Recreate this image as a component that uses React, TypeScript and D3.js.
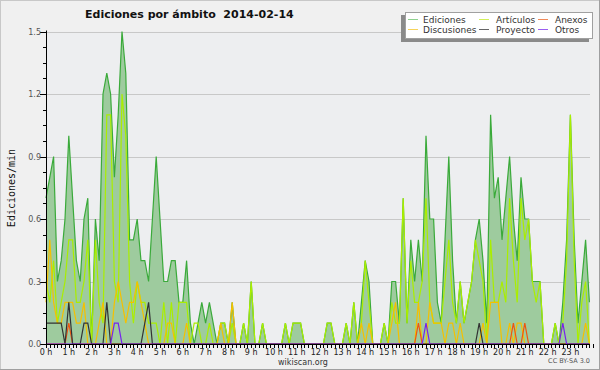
import React from "react";
import * as d3 from "d3";

// 10-minute samples, edits per minute
const ediciones = [
  0.7,0.8,0.9,0.3,0.4,0.6,1.0,0.7,0.4,0.3,0.6,0.7,
  0.0,0.6,0.4,1.2,1.3,1.2,0.8,1.1,1.5,1.3,0.5,0.5,
  0.6,0.4,0.4,0.3,0.6,0.9,0.6,0.3,0.3,0.4,0.4,0.2,
  0.2,0.4,0.1,0.0,0.1,0.2,0.1,0.2,0.1,0.0,0.1,0.1,
  0.0,0.2,0.0,0.0,0.1,0.0,0.3,0.0,0.0,0.1,0.0,0.0,
  0.0,0.0,0.0,0.1,0.0,0.1,0.1,0.1,0.0,0.0,0.0,0.0,
  0.0,0.0,0.1,0.1,0.0,0.0,0.0,0.1,0.0,0.2,0.0,0.2,
  0.4,0.3,0.0,0.0,0.0,0.1,0.0,0.3,0.3,0.1,0.7,0.1,
  0.5,0.3,0.5,0.3,1.0,0.6,0.6,0.2,0.1,0.5,0.9,0.4,
  0.1,0.3,0.1,0.2,0.3,0.5,0.6,0.4,0.1,1.1,0.7,0.8,
  0.5,0.7,0.9,0.6,0.4,0.8,0.6,0.6,0.3,0.3,0.3,0.0,
  0.0,0.0,0.1,0.0,0.2,0.5,1.1,0.5,0.1,0.3,0.5,0.2,
];
const articulos = [
  0.3,0.2,0.4,0.1,0.2,0.3,0.5,0.5,0.2,0.2,0.3,0.5,
  0.0,0.5,0.2,0.1,1.1,1.1,0.3,0.2,1.2,1.0,0.3,0.1,
  0.3,0.2,0.2,0.1,0.1,0.1,0.0,0.2,0.0,0.2,0.0,0.2,
  0.2,0.2,0.0,0.1,0.1,0.0,0.0,0.1,0.0,0.0,0.1,0.1,
  0.0,0.1,0.0,0.0,0.1,0.0,0.3,0.0,0.0,0.1,0.0,0.0,
  0.0,0.0,0.0,0.1,0.0,0.1,0.1,0.1,0.0,0.0,0.0,0.0,
  0.0,0.0,0.1,0.1,0.0,0.0,0.0,0.1,0.0,0.2,0.0,0.1,
  0.4,0.2,0.0,0.0,0.0,0.1,0.0,0.2,0.1,0.1,0.7,0.1,
  0.4,0.2,0.2,0.3,0.7,0.2,0.1,0.1,0.1,0.3,0.5,0.2,
  0.1,0.3,0.1,0.2,0.3,0.5,0.4,0.3,0.0,0.5,0.2,0.2,
  0.3,0.2,0.7,0.4,0.2,0.7,0.5,0.6,0.3,0.2,0.3,0.0,
  0.0,0.0,0.1,0.0,0.1,0.4,1.1,0.4,0.0,0.2,0.3,0.0,
];
const discusiones = [
  0.2,0.5,0.2,0.1,0.1,0.2,0.2,0.2,0.1,0.1,0.2,0.0,
  0.0,0.0,0.1,0.2,0.0,0.0,0.2,0.3,0.2,0.1,0.2,0.2,
  0.3,0.2,0.1,0.0,0.0,0.0,0.0,0.0,0.1,0.1,0.0,0.0,
  0.0,0.1,0.0,0.0,0.0,0.0,0.0,0.0,0.0,0.0,0.1,0.0,
  0.0,0.2,0.0,0.0,0.0,0.0,0.0,0.0,0.0,0.0,0.0,0.0,
  0.0,0.0,0.0,0.0,0.0,0.0,0.0,0.0,0.0,0.0,0.0,0.0,
  0.0,0.0,0.0,0.0,0.0,0.0,0.0,0.0,0.0,0.0,0.0,0.1,
  0.0,0.1,0.0,0.0,0.0,0.0,0.0,0.1,0.2,0.0,0.0,0.0,
  0.0,0.0,0.2,0.0,0.0,0.2,0.1,0.1,0.1,0.0,0.1,0.1,
  0.0,0.1,0.0,0.0,0.0,0.0,0.0,0.1,0.0,0.2,0.2,0.2,
  0.0,0.0,0.1,0.0,0.1,0.1,0.0,0.0,0.0,0.0,0.0,0.0,
  0.0,0.0,0.0,0.0,0.0,0.0,0.0,0.0,0.0,0.0,0.1,0.0,
];
const proyecto = [
  0.1,0.1,0.1,0.1,0.1,0.0,0.2,0.0,0.0,0.0,0.1,0.1,
  0.0,0.0,0.0,0.0,0.2,0.0,0.0,0.0,0.0,0.0,0.0,0.0,
  0.0,0.0,0.1,0.2,0.0,0.0,0.0,0.0,0.0,0.0,0.0,0.0,
  0.0,0.0,0.0,0.0,0.0,0.0,0.0,0.0,0.0,0.0,0.0,0.0,
  0.0,0.0,0.0,0.0,0.0,0.0,0.0,0.0,0.0,0.0,0.0,0.0,
  0.0,0.0,0.0,0.0,0.0,0.0,0.0,0.0,0.0,0.0,0.0,0.0,
  0.0,0.0,0.0,0.0,0.0,0.0,0.0,0.0,0.0,0.0,0.0,0.0,
  0.0,0.0,0.0,0.0,0.0,0.0,0.0,0.0,0.0,0.0,0.0,0.0,
  0.0,0.0,0.0,0.0,0.0,0.0,0.0,0.0,0.0,0.0,0.0,0.0,
  0.0,0.0,0.0,0.0,0.0,0.0,0.1,0.0,0.0,0.0,0.0,0.0,
  0.0,0.0,0.0,0.0,0.0,0.0,0.0,0.0,0.0,0.0,0.0,0.0,
  0.0,0.0,0.0,0.0,0.0,0.0,0.0,0.0,0.0,0.0,0.0,0.0,
];
const anexos = [
  0.0,0.0,0.0,0.0,0.0,0.0,0.1,0.0,0.0,0.0,0.0,0.0,
  0.0,0.0,0.0,0.0,0.0,0.0,0.0,0.0,0.0,0.0,0.0,0.0,
  0.0,0.0,0.0,0.0,0.0,0.0,0.0,0.0,0.0,0.0,0.0,0.0,
  0.0,0.0,0.0,0.0,0.0,0.0,0.0,0.0,0.0,0.0,0.0,0.0,
  0.0,0.0,0.0,0.0,0.0,0.0,0.0,0.0,0.0,0.0,0.0,0.0,
  0.0,0.0,0.0,0.0,0.0,0.0,0.0,0.0,0.0,0.0,0.0,0.0,
  0.0,0.0,0.0,0.0,0.0,0.0,0.0,0.0,0.0,0.0,0.0,0.0,
  0.0,0.0,0.0,0.0,0.0,0.0,0.0,0.0,0.0,0.0,0.0,0.0,
  0.0,0.0,0.1,0.0,0.0,0.0,0.0,0.0,0.0,0.0,0.0,0.0,
  0.0,0.0,0.0,0.0,0.0,0.0,0.0,0.0,0.0,0.0,0.0,0.0,
  0.0,0.0,0.0,0.1,0.0,0.0,0.1,0.0,0.0,0.0,0.0,0.0,
  0.0,0.0,0.0,0.0,0.0,0.0,0.0,0.0,0.0,0.0,0.0,0.0,
];
const otros = [
  0.0,0.0,0.0,0.0,0.0,0.0,0.0,0.0,0.0,0.0,0.0,0.0,
  0.0,0.0,0.0,0.0,0.0,0.0,0.1,0.1,0.0,0.0,0.0,0.0,
  0.0,0.0,0.0,0.0,0.0,0.0,0.0,0.0,0.0,0.0,0.0,0.0,
  0.0,0.0,0.0,0.0,0.0,0.0,0.0,0.0,0.0,0.0,0.0,0.0,
  0.0,0.0,0.0,0.0,0.0,0.0,0.0,0.0,0.0,0.0,0.0,0.0,
  0.0,0.0,0.0,0.0,0.0,0.0,0.0,0.0,0.0,0.0,0.0,0.0,
  0.0,0.0,0.0,0.0,0.0,0.0,0.0,0.0,0.0,0.0,0.0,0.0,
  0.0,0.0,0.0,0.0,0.0,0.0,0.0,0.0,0.0,0.0,0.0,0.0,
  0.0,0.0,0.0,0.0,0.1,0.0,0.0,0.0,0.0,0.0,0.0,0.0,
  0.0,0.0,0.0,0.0,0.0,0.0,0.0,0.0,0.0,0.0,0.0,0.0,
  0.0,0.0,0.0,0.0,0.0,0.0,0.0,0.0,0.0,0.0,0.0,0.0,
  0.0,0.0,0.0,0.0,0.1,0.0,0.0,0.0,0.0,0.0,0.0,0.0,
];

const hourLabels = ["0 h","1 h","2 h","3 h","4 h","5 h","6 h","7 h","8 h","9 h","10 h","11 h",
  "12 h","13 h","14 h","15 h","16 h","17 h","18 h","19 h","20 h","21 h","22 h","23 h"];
const yTicks = [0.0, 0.3, 0.6, 0.9, 1.2, 1.5];
const title = "Ediciones por ámbito  2014-02-14";
const yLabel = "Ediciones/min";

const legendItems = [
  { name: "Ediciones", color: "#8fd18f", col: 0, row: 0 },
  { name: "Artículos", color: "#d2ef5a", col: 1, row: 0 },
  { name: "Anexos", color: "#f08a5a", col: 2, row: 0 },
  { name: "Discusiones", color: "#f6d35a", col: 0, row: 1 },
  { name: "Proyecto", color: "#666666", col: 1, row: 1 },
  { name: "Otros", color: "#9a5ef0", col: 2, row: 1 },
];

const lineSeries = [
  { data: articulos, color: "#aaee00" },
  { data: discusiones, color: "#f5c000" },
  { data: anexos, color: "#ee5511" },
  { data: proyecto, color: "#333333" },
  { data: otros, color: "#7722ee" },
];

export default function App() {
  const W = 600, H = 370;
  const x0 = 46, x1 = 589.4, yTop = 31.5, yBot = 344;
  const x = d3.scaleLinear().domain([0, ediciones.length - 1]).range([x0, x1]);
  const y = d3.scaleLinear().domain([0, 1.5]).range([yBot, yTop]);
  const line = d3.line<number>().x((_, i) => x(i)).y((d) => y(d));
  const area = d3.area<number>().x((_, i) => x(i)).y0(yBot).y1((d) => y(d));
  const font = "'DejaVu Sans', sans-serif";
  const minorY = d3.range(0, 1.5001, 0.075);
  const minorX = d3.range(0, ediciones.length + 1);
  const colX = [408, 479, 538];
  const colT = [423, 496, 555];
  return (
    <svg width={W} height={H} style={{ position: "absolute", left: 0, top: 0 }}
      xmlns="http://www.w3.org/2000/svg">
      <rect x={0} y={0} width={W} height={H} fill="#f0f0f0" />
      <rect x={x0} y={yTop} width={590 - x0} height={yBot - yTop} fill="#edeef0" />
      <line x1={0.5} y1={0} x2={0.5} y2={H} stroke="#c8c8c8" />
      <line x1={0} y1={0.5} x2={W} y2={0.5} stroke="#c8c8c8" />
      <line x1={W - 0.5} y1={0} x2={W - 0.5} y2={H} stroke="#a0a0a0" />
      <line x1={0} y1={H - 0.5} x2={W} y2={H - 0.5} stroke="#a0a0a0" />
      {yTicks.filter((t) => t > 0).map((t) => (
        <line key={"g" + t} x1={x0} x2={590} y1={Math.round(y(t)) + 0.5} y2={Math.round(y(t)) + 0.5}
          stroke="#c8c8c8" strokeWidth={1} />
      ))}
      <path d={area(ediciones) || ""} fill="#9ecb9e" />
      <path d={line(ediciones) || ""} fill="none" stroke="#3aaa3a" strokeWidth={1.2} />
      {lineSeries.map((s, k) => (
        <path key={k} d={line(s.data) || ""} fill="none" stroke={s.color} strokeWidth={1.2} />
      ))}
      {/* axes */}
      <line x1={x0 + 0.5} x2={x0 + 0.5} y1={yTop - 1} y2={yBot + 1} stroke="#000" />
      <line x1={x0} x2={590} y1={yBot + 0.5} y2={yBot + 0.5} stroke="#000" />
      {minorY.map((t, k) => (
        <line key={"my" + k} x1={k % 4 === 0 ? x0 - 6 : x0 - 3} x2={x0}
          y1={Math.round(y(t)) + 0.5} y2={Math.round(y(t)) + 0.5} stroke="#000" />
      ))}
      {minorX.map((i) => (
        <line key={"mx" + i} x1={Math.round(x0 + (i * (x1 - x0)) / (ediciones.length - 1)) + 0.5}
          x2={Math.round(x0 + (i * (x1 - x0)) / (ediciones.length - 1)) + 0.5}
          y1={yBot} y2={yBot + 4} stroke="#000" />
      ))}
      {yTicks.map((t) => (
        <text key={"yl" + t} x={41} y={y(t) + 3} textAnchor="end" fontFamily={font}
          fontSize={8} fill="#555">{t.toFixed(1)}</text>
      ))}
      {hourLabels.map((h, k) => (
        <text key={h} x={x(k * 6)} y={355} textAnchor="middle" fontFamily={font}
          fontSize={8} fill="#222">{h}</text>
      ))}
      <text x={0} y={0} transform={`translate(15,188) rotate(-90)`} textAnchor="middle"
        fontFamily="'DejaVu Sans Mono', monospace" fontSize={10} fill="#111">{yLabel}</text>
      <text x={85} y={18} fontFamily={font} fontWeight="bold" fontSize={11} fill="#111"
        style={{ whiteSpace: "pre" }}>{title}</text>
      <text x={303} y={365} textAnchor="middle" fontFamily={font} fontSize={8} fill="#333">wikiscan.org</text>
      <text x={590} y={363} textAnchor="end" fontFamily={font} fontSize={6.5} fill="#555">CC BY-SA 3.0</text>
      {/* legend */}
      <rect x={401} y={15} width={188} height={27} fill="#8a8a8a" />
      <rect x={405.5} y={12.5} width={187} height={26} fill="#ffffff" stroke="#a0a0a0" />
      {legendItems.map((it) => (
        <g key={it.name}>
          <line x1={colX[it.col]} x2={colX[it.col] + 10} y1={19.5 + it.row * 10}
            y2={19.5 + it.row * 10} stroke={it.color} strokeWidth={1} />
          <text x={colT[it.col]} y={23 + it.row * 10} fontFamily={font} fontSize={9}
            fill="#333">{it.name}</text>
        </g>
      ))}
    </svg>
  );
}
